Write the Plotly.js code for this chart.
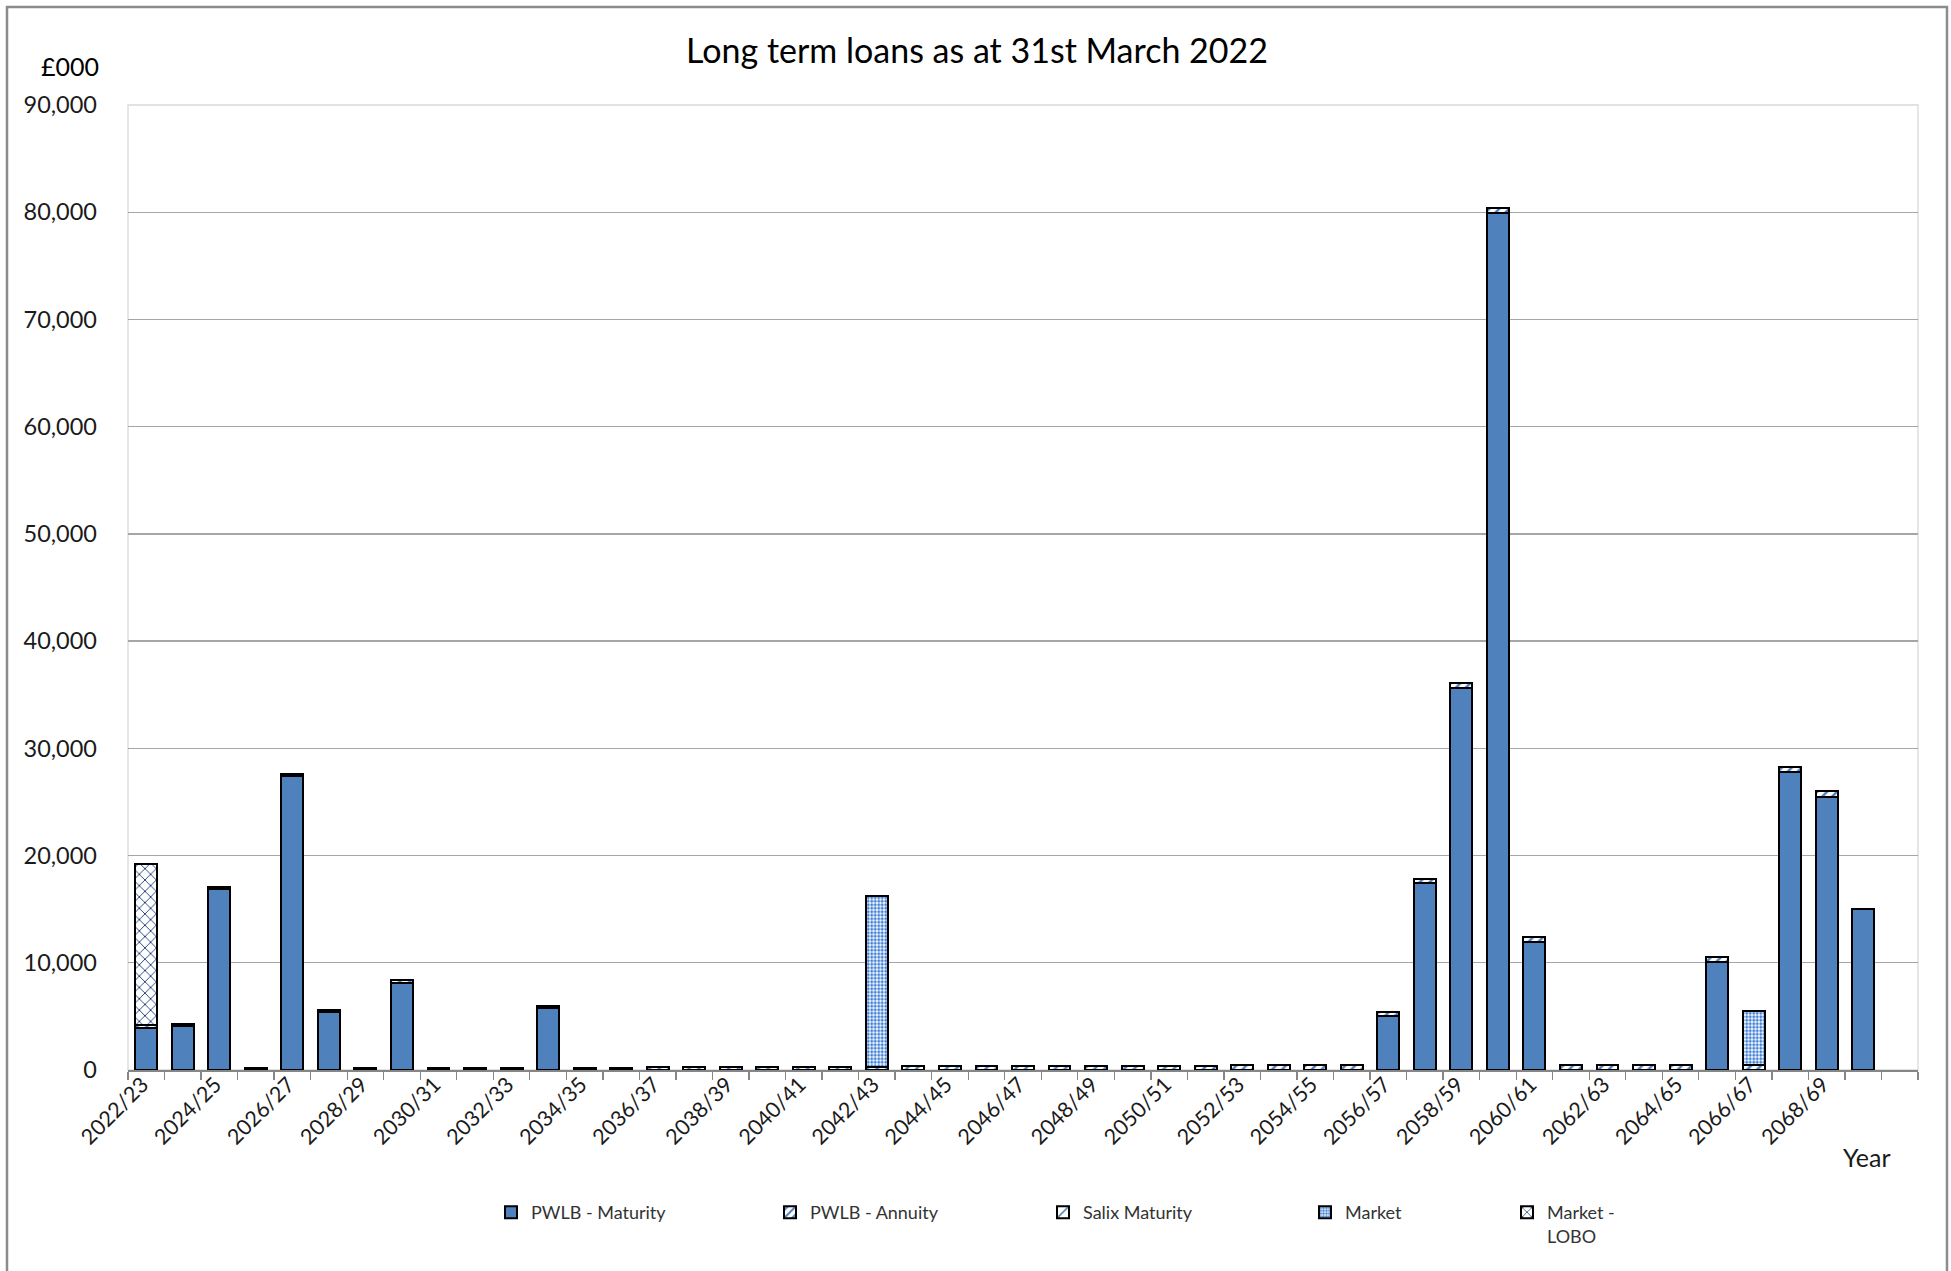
<!DOCTYPE html>
<html>
<head>
<meta charset="utf-8">
<script src="https://cdn.plot.ly/plotly-3.0.1.min.js"></script>
<style>
html,body{margin:0;padding:0;background:#ffffff;}
#chart{width:1951px;height:1271px;}
</style>
</head>
<body>
<div id="chart"></div>
<script>
// ---- Data (£000) ----
const categories = [
  "2022/23","2023/24","2024/25","2025/26","2026/27","2027/28","2028/29","2029/30",
  "2030/31","2031/32","2032/33","2033/34","2034/35","2035/36","2036/37","2037/38",
  "2038/39","2039/40","2040/41","2041/42","2042/43","2043/44","2044/45","2045/46",
  "2046/47","2047/48","2048/49","2049/50","2050/51","2051/52","2052/53","2053/54",
  "2054/55","2055/56","2056/57","2057/58","2058/59","2059/60","2060/61","2061/62",
  "2062/63","2063/64","2064/65","2065/66","2066/67","2067/68","2068/69","2069/70",
  "2070/71"
];
const years = categories.slice(0, 48);

const tickLabels = [
  "2022/23","","2024/25","","2026/27","","2028/29","","2030/31","","2032/33","",
  "2034/35","","2036/37","","2038/39","","2040/41","","2042/43","","2044/45","",
  "2046/47","","2048/49","","2050/51","","2052/53","","2054/55","","2056/57","",
  "2058/59","","2060/61","","2062/63","","2064/65","","2066/67","","2068/69","",""
];

const pwlbMaturity = [
  3900, 4100, 16900, 0, 27400, 5400, 0, 8150,
  0, 0, 0, 5750, 0, 0, 0, 0,
  0, 0, 0, 0, 0, 0, 0, 0,
  0, 0, 0, 0, 0, 0, 0, 0,
  0, 0, 5000, 17400, 35600, 79950, 11950, 0,
  0, 0, 0, 10050, 0, 27800, 25500, 15000
];
const pwlbAnnuity = [
  300, 200, 200, 200, 200, 210, 210, 210,
  210, 220, 220, 230, 230, 230, 240, 240,
  250, 250, 250, 260, 260, 400, 400, 400,
  410, 410, 410, 420, 420, 420, 430, 430,
  430, 440, 450, 450, 460, 460, 470, 480,
  480, 490, 490, 500, 500, 500, 500, 0
];
const salixMaturity = [
  0,0,0,0,0,0,0,0, 0,0,0,0,0,0,0,0, 0,0,0,0,0,0,0,0,
  0,0,0,0,0,0,0,0, 0,0,0,0,0,0,0,0, 0,0,0,0,0,0,0,0
];
const market = [
  0,0,0,0,0,0,0,0, 0,0,0,0,0,0,0,0, 0,0,0,0,16000,0,0,0,
  0,0,0,0,0,0,0,0, 0,0,0,0,0,0,0,0, 0,0,0,0,5000,0,0,0
];
const marketLobo = [
  15000,0,0,0,0,0,0,0, 0,0,0,0,0,0,0,0, 0,0,0,0,0,0,0,0,
  0,0,0,0,0,0,0,0, 0,0,0,0,0,0,0,0, 0,0,0,0,0,0,0,0
];

const seriesNames = ["PWLB - Maturity","PWLB - Annuity","Salix Maturity","Market","Market -<br>LOBO"];

// ---- Styling ----
const FONT = "Lato, 'Open Sans', sans-serif";
const BLUE = "#4F81BD";
const outline = {color: "#000000", width: 2};

const traces = [
  {type:"bar", name:seriesNames[0], x:years, y:pwlbMaturity, legend:"legend",
   marker:{color:BLUE, line:outline}},
  {type:"bar", name:seriesNames[1], x:years, y:pwlbAnnuity, legend:"legend2",
   marker:{color:"#ffffff", line:outline,
     pattern:{shape:"/", fgcolor:BLUE, bgcolor:"#ffffff", size:7, solidity:0.35, fillmode:"replace"}}},
  {type:"bar", name:seriesNames[2], x:years, y:salixMaturity, legend:"legend3",
   marker:{color:"#ffffff", line:outline,
     pattern:{shape:"/", fgcolor:BLUE, bgcolor:"#ffffff", size:10, solidity:0.2, fillmode:"replace"}}},
  {type:"bar", name:seriesNames[3], x:years, y:market, legend:"legend4",
   marker:{color:"#ffffff", line:outline,
     pattern:{shape:".", fgcolor:"#3F7FD6", bgcolor:"#ffffff", size:3.5, solidity:0.55, fillmode:"replace"}}},
  {type:"bar", name:seriesNames[4], x:years, y:marketLobo, legend:"legend5",
   marker:{color:"#ffffff", line:outline,
     pattern:{shape:"x", fgcolor:"#1F3F7A", bgcolor:"#ffffff", size:8, solidity:0.22, fillmode:"replace"}}}
];

const W = 1951, H = 1271;
const PL = 128, PR = 1918, PT = 105, PB = 1070;
const px = v => (v - PL) / (PR - PL);
const py = v => (PB - v) / (PB - PT);

function mkLegend(xPix, valign) {
  return {
    orientation:"h", xref:"container", yref:"container",
    x: xPix / W, y: 1 - 1194 / H, xanchor:"left", yanchor:"top",
    font:{family:FONT, size:18, color:"#333333"},
    bgcolor:"rgba(0,0,0,0)", borderwidth:0, valign: valign || "middle",
    itemclick:false, itemdoubleclick:false
  };
}

const layout = {
  width:W, height:H,
  margin:{l:PL, r:W-PR, t:PT, b:H-PB, pad:0},
  paper_bgcolor:"#ffffff", plot_bgcolor:"#ffffff",
  barmode:"stack", bargap:0.4,
  font:{family:FONT, color:"#1a1a1a"},
  title:{text:"Long term loans as at 31st March 2022", xref:"container", yref:"container",
    x:977/W, y:1-51/H, xanchor:"center", yanchor:"middle",
    font:{family:FONT, size:34, color:"#000000"}},
  xaxis:{type:"category", categoryorder:"array", categoryarray:categories,
    range:[-0.5, 48.5], tickmode:"array", tickvals:categories, ticktext:tickLabels,
    tickson:"boundaries", ticks:"outside", ticklen:8, tickwidth:1.3, tickcolor:"#868686",
    showline:true, linecolor:"#868686", linewidth:1.5, showgrid:false,
    tickangle:-45, ticklabelshift:-4, ticklabelstandoff:-8,
    tickfont:{family:FONT, size:21.5, color:"#1a1a1a"}, fixedrange:true},
  yaxis:{range:[0, 90000], tickmode:"linear", tick0:0, dtick:10000, tickformat:",d",
    showgrid:true, gridcolor:"#A6A6A6", gridwidth:1.3, zeroline:false, showline:false,
    ticks:"", ticklabelstandoff:30, tickfont:{family:FONT, size:23.5, color:"#1a1a1a"}, fixedrange:true},
  legend:mkLegend(491),
  legend2:mkLegend(770),
  legend3:mkLegend(1043),
  legend4:mkLegend(1305),
  legend5:mkLegend(1507, "top"),
  annotations:[
    {text:"£000", xref:"paper", yref:"paper", x:px(101), y:py(66), xanchor:"right", yanchor:"middle",
     showarrow:false, font:{family:FONT, size:25, color:"#000000"}},
    {text:"Year", xref:"paper", yref:"paper", x:px(1841), y:py(1157), xanchor:"left", yanchor:"middle",
     showarrow:false, font:{family:FONT, size:25, color:"#1a1a1a"}}
  ],
  shapes:[
    {type:"rect", xref:"paper", yref:"paper", x0:0, x1:1, y0:0, y1:1,
     line:{color:"#D9D9D9", width:1.3}, layer:"below"},
    {type:"rect", xref:"paper", yref:"paper", x0:px(7), x1:px(1947), y0:py(1300), y1:py(7),
     line:{color:"#8C8C8C", width:2.5}, layer:"above"}
  ],
  showlegend:true
};

Plotly.newPlot("chart", traces, layout, {displayModeBar:false, staticPlot:true});
</script>
</body>
</html>
